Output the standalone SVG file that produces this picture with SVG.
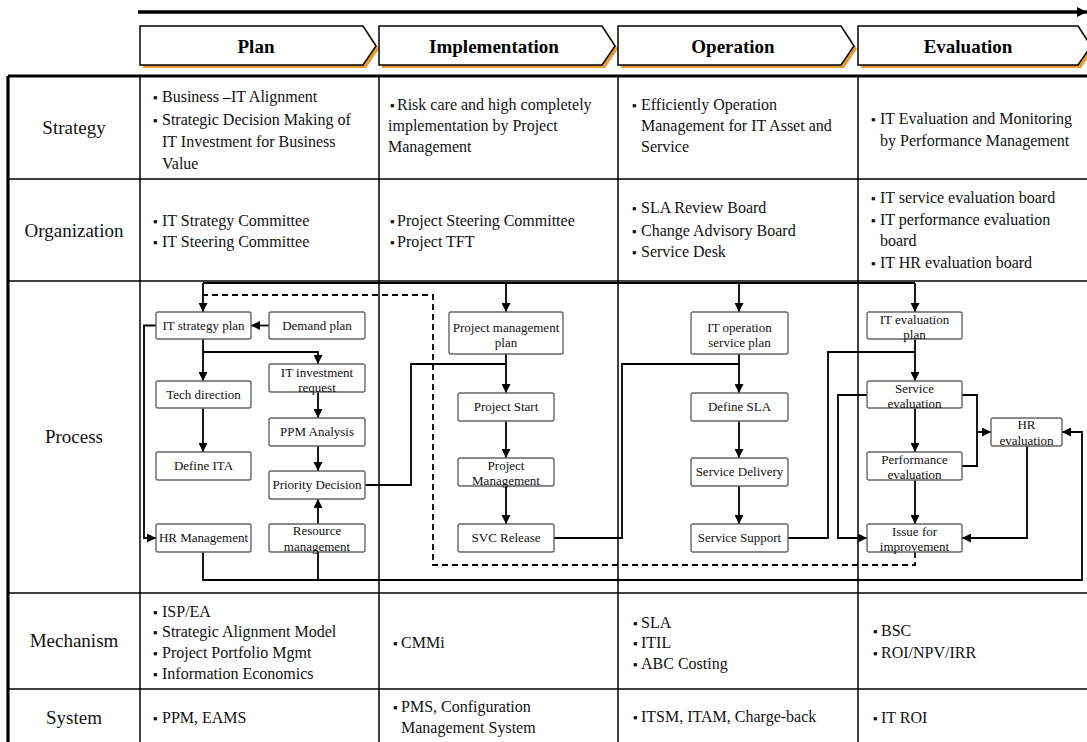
<svg xmlns="http://www.w3.org/2000/svg" width="1087" height="742" viewBox="0 0 1087 742">
<defs>
<marker id="ah" viewBox="0 0 10 10" refX="10" refY="5" markerWidth="5" markerHeight="5" orient="auto" markerUnits="strokeWidth">
<path d="M0,0 L10,5 L0,10 z" fill="#000"/>
</marker>
<marker id="bigah" viewBox="0 0 10 10" refX="10" refY="5" markerWidth="3" markerHeight="3" orient="auto" markerUnits="strokeWidth">
<path d="M0,0 L10,5 L0,10 z" fill="#000"/>
</marker>
</defs>
<style>
.chev{fill:#fff;stroke:#000;stroke-width:1.5}
.shadow{fill:#E39B33;stroke:none}
.ht{font-family:"Liberation Serif","Times New Roman",serif;font-weight:bold;font-size:19px;text-anchor:middle;fill:#000}
.grid{stroke:#000;stroke-width:1.5;fill:none}
.outer{stroke:#000;stroke-width:3.2;fill:none}
.lbl{font-family:"Liberation Serif","Times New Roman",serif;font-size:19px;text-anchor:middle;fill:#111}
.t{font-family:"Liberation Serif","Times New Roman",serif;font-size:16px;fill:#111}
.b{font-size:13px}
.box{fill:#fff;stroke:#666;stroke-width:1.4}
.bt{font-family:"Liberation Serif","Times New Roman",serif;font-size:13px;text-anchor:middle;fill:#111}
.c{fill:none;stroke:#000;stroke-width:1.8}
.ca{fill:none;stroke:#000;stroke-width:1.8;marker-end:url(#ah)}
.dash{fill:none;stroke:#000;stroke-width:1.8;stroke-dasharray:6,4}
</style>
<rect width="1087" height="742" fill="#fff"/>

<!-- timeline arrow -->
<g id="timeline">
<line x1="138" y1="12" x2="1087" y2="12" stroke="#000" stroke-width="3.5" marker-end="url(#bigah)"/>
</g>

<!-- phase chevrons -->
<g id="phase-plan">
<polygon class="shadow" transform="translate(3,3)" points="140,26 363,26 376,46 363,65 140,65"/>
<polygon class="chev" points="140,26 363,26 376,46 363,65 140,65"/>
<text class="ht" x="256" y="53">Plan</text>
</g>
<g id="phase-implementation">
<polygon class="shadow" transform="translate(3,3)" points="379,26 602,26 615,46 602,65 379,65"/>
<polygon class="chev" points="379,26 602,26 615,46 602,65 379,65"/>
<text class="ht" x="494" y="53">Implementation</text>
</g>
<g id="phase-operation">
<polygon class="shadow" transform="translate(3,3)" points="618,26 841,26 854,46 841,65 618,65"/>
<polygon class="chev" points="618,26 841,26 854,46 841,65 618,65"/>
<text class="ht" x="733" y="53">Operation</text>
</g>
<g id="phase-evaluation">
<polygon class="shadow" transform="translate(3,3)" points="858,26 1078,26 1091,46 1078,65 858,65"/>
<polygon class="chev" points="858,26 1078,26 1091,46 1078,65 858,65"/>
<text class="ht" x="968" y="53">Evaluation</text>
</g>

<!-- table grid -->
<g id="table">
<line class="grid" x1="8" y1="179" x2="1087" y2="179"/>
<line class="grid" x1="8" y1="281" x2="1087" y2="281"/>
<line class="grid" x1="8" y1="593" x2="1087" y2="593"/>
<line class="grid" x1="8" y1="689" x2="1087" y2="689"/>
<line class="grid" x1="140" y1="76" x2="140" y2="742"/>
<line class="grid" x1="379" y1="76" x2="379" y2="742"/>
<line class="grid" x1="618" y1="76" x2="618" y2="742"/>
<line class="grid" x1="858" y1="76" x2="858" y2="742"/>
<line class="outer" x1="8" y1="76" x2="1087" y2="76"/>
<line class="outer" x1="8" y1="76" x2="8" y2="742"/>
</g>

<!-- row labels -->
<g id="row-labels">
<text class="lbl" x="74" y="134">Strategy</text>
<text class="lbl" x="74" y="237">Organization</text>
<text class="lbl" x="74" y="443">Process</text>
<text class="lbl" x="74" y="647">Mechanism</text>
<text class="lbl" x="74" y="724">System</text>
</g>

<!-- strategy row -->
<g id="strategy-cells">
<text class="t"><tspan class="b" x="153" y="102">▪</tspan><tspan x="162" y="102">Business –IT Alignment</tspan></text>
<text class="t"><tspan class="b" x="153" y="125">▪</tspan><tspan x="162" y="125">Strategic Decision Making of</tspan></text>
<text class="t" x="162" y="147">IT Investment for Business</text>
<text class="t" x="162" y="169">Value</text>

<text class="t"><tspan class="b" x="390" y="110">▪</tspan><tspan x="397" y="110">Risk care and high completely</tspan></text>
<text class="t" x="388" y="131">implementation by Project</text>
<text class="t" x="388" y="152">Management</text>

<text class="t"><tspan class="b" x="632" y="110">▪</tspan><tspan x="641" y="110">Efficiently Operation</tspan></text>
<text class="t" x="641" y="131">Management for IT Asset and</text>
<text class="t" x="641" y="152">Service</text>

<text class="t"><tspan class="b" x="871" y="124">▪</tspan><tspan x="880" y="124">IT Evaluation and Monitoring</tspan></text>
<text class="t" x="880" y="146">by Performance Management</text>
</g>

<!-- organization row -->
<g id="organization-cells">
<text class="t"><tspan class="b" x="153" y="226">▪</tspan><tspan x="162" y="226">IT Strategy Committee</tspan></text>
<text class="t"><tspan class="b" x="153" y="247">▪</tspan><tspan x="162" y="247">IT Steering Committee</tspan></text>

<text class="t"><tspan class="b" x="390" y="226">▪</tspan><tspan x="397" y="226">Project Steering Committee</tspan></text>
<text class="t"><tspan class="b" x="390" y="247">▪</tspan><tspan x="397" y="247">Project TFT</tspan></text>

<text class="t"><tspan class="b" x="632" y="213">▪</tspan><tspan x="641" y="213">SLA Review Board</tspan></text>
<text class="t"><tspan class="b" x="632" y="236">▪</tspan><tspan x="641" y="236">Change Advisory Board</tspan></text>
<text class="t"><tspan class="b" x="632" y="257">▪</tspan><tspan x="641" y="257">Service Desk</tspan></text>

<text class="t"><tspan class="b" x="871" y="203">▪</tspan><tspan x="880" y="203">IT service evaluation board</tspan></text>
<text class="t"><tspan class="b" x="871" y="225">▪</tspan><tspan x="880" y="225">IT performance evaluation</tspan></text>
<text class="t" x="880" y="246">board</text>
<text class="t"><tspan class="b" x="871" y="268">▪</tspan><tspan x="880" y="268">IT HR evaluation board</tspan></text>
</g>

<!-- mechanism row -->
<g id="mechanism-cells">
<text class="t"><tspan class="b" x="153" y="617">▪</tspan><tspan x="162" y="617">ISP/EA</tspan></text>
<text class="t"><tspan class="b" x="153" y="637">▪</tspan><tspan x="162" y="637">Strategic Alignment Model</tspan></text>
<text class="t"><tspan class="b" x="153" y="658">▪</tspan><tspan x="162" y="658">Project Portfolio Mgmt</tspan></text>
<text class="t"><tspan class="b" x="153" y="679">▪</tspan><tspan x="162" y="679">Information Economics</tspan></text>

<text class="t"><tspan class="b" x="393" y="648">▪</tspan><tspan x="401" y="648">CMMi</tspan></text>

<text class="t"><tspan class="b" x="633" y="628">▪</tspan><tspan x="641" y="628">SLA</tspan></text>
<text class="t"><tspan class="b" x="633" y="648">▪</tspan><tspan x="641" y="648">ITIL</tspan></text>
<text class="t"><tspan class="b" x="633" y="669">▪</tspan><tspan x="641" y="669">ABC Costing</tspan></text>

<text class="t"><tspan class="b" x="873" y="636">▪</tspan><tspan x="881" y="636">BSC</tspan></text>
<text class="t"><tspan class="b" x="873" y="658">▪</tspan><tspan x="881" y="658">ROI/NPV/IRR</tspan></text>
</g>

<!-- system row -->
<g id="system-cells">
<text class="t"><tspan class="b" x="153" y="723">▪</tspan><tspan x="162" y="723">PPM, EAMS</tspan></text>
<text class="t"><tspan class="b" x="393" y="712">▪</tspan><tspan x="401" y="712">PMS, Configuration</tspan></text>
<text class="t" x="401" y="733">Management System</text>
<text class="t"><tspan class="b" x="633" y="722">▪</tspan><tspan x="641" y="722">ITSM, ITAM, Charge-back</tspan></text>
<text class="t"><tspan class="b" x="873" y="723">▪</tspan><tspan x="881" y="723">IT ROI</tspan></text>
</g>

<!-- connectors -->
<g id="connectors">
<path class="dash" d="M915,552 V565 H433 V295 H203"/>
<path class="c" d="M203,283 H915"/>
<path class="ca" d="M203,283 V312"/>
<path class="ca" d="M506,283 V312"/>
<path class="ca" d="M739,283 V312"/>
<path class="ca" d="M915,283 V312"/>
<path class="ca" d="M269,325.5 H251"/>
<path class="ca" d="M203,339 V381"/>
<path class="ca" d="M203,352 H318 V364"/>
<path class="ca" d="M203,408 V452"/>
<path class="ca" d="M318,392 V418"/>
<path class="ca" d="M318,446 V471"/>
<path class="ca" d="M318,524 V499"/>
<path class="ca" d="M156,325.5 H144 V538 H156"/>
<path class="c" d="M365,485 H411 V364 H506"/>
<path class="ca" d="M506,354 V393"/>
<path class="ca" d="M506,421 V458"/>
<path class="ca" d="M506,486 V524"/>
<path class="c" d="M554,538 H622 V364 H739"/>
<path class="ca" d="M739,354 V393"/>
<path class="ca" d="M739,421 V458"/>
<path class="ca" d="M739,486 V524"/>
<path class="c" d="M788,538 H828 V352 H915"/>
<path class="ca" d="M915,339 V381"/>
<path class="ca" d="M915,408 V452"/>
<path class="ca" d="M915,480 V524"/>
<path class="c" d="M962,395 H977 V466 H962"/>
<path class="ca" d="M977,432 H991"/>
<path class="ca" d="M867,395 H838 V538 H867"/>
<path class="ca" d="M1027,446 V538 H962"/>
<path class="ca" d="M203,552 V580 H1082 V432 H1062"/>
<path class="c" d="M318,552 V580"/>
</g>

<!-- process nodes -->
<g id="n-it-strategy-plan"><rect class="box" x="156" y="312" width="95" height="27" rx="2"/><text class="bt" x="203.5" y="330">IT strategy plan</text></g>
<g id="n-demand-plan"><rect class="box" x="269" y="312" width="96" height="27" rx="2"/><text class="bt" x="317" y="330">Demand plan</text></g>
<g id="n-tech-direction"><rect class="box" x="156" y="381" width="95" height="27" rx="2"/><text class="bt" x="203.5" y="399">Tech direction</text></g>
<g id="n-define-ita"><rect class="box" x="156" y="452" width="95" height="28" rx="2"/><text class="bt" x="203.5" y="470">Define ITA</text></g>
<g id="n-hr-management"><rect class="box" x="156" y="524" width="95" height="28" rx="2"/><text class="bt" x="203.5" y="542">HR Management</text></g>
<g id="n-it-investment-request"><rect class="box" x="269" y="364" width="96" height="28" rx="2"/><text class="bt" x="317" y="376.5">IT investment</text><text class="bt" x="317" y="392">request</text></g>
<g id="n-ppm-analysis"><rect class="box" x="269" y="418" width="96" height="28" rx="2"/><text class="bt" x="317" y="436">PPM Analysis</text></g>
<g id="n-priority-decision"><rect class="box" x="269" y="471" width="96" height="28" rx="2"/><text class="bt" x="317" y="489">Priority Decision</text></g>
<g id="n-resource-management"><rect class="box" x="269" y="524" width="96" height="28" rx="2"/><text class="bt" x="317" y="535">Resource</text><text class="bt" x="317" y="551">management</text></g>

<g id="n-project-management-plan"><rect class="box" x="449" y="312" width="114" height="42" rx="2"/><text class="bt" x="506" y="331.5">Project management</text><text class="bt" x="506" y="346.5">plan</text></g>
<g id="n-project-start"><rect class="box" x="458" y="393" width="96" height="28" rx="2"/><text class="bt" x="506" y="411">Project Start</text></g>
<g id="n-project-management"><rect class="box" x="458" y="458" width="96" height="28" rx="2"/><text class="bt" x="506" y="469.5">Project</text><text class="bt" x="506" y="485">Management</text></g>
<g id="n-svc-release"><rect class="box" x="458" y="524" width="96" height="28" rx="2"/><text class="bt" x="506" y="542">SVC Release</text></g>

<g id="n-it-operation-service-plan"><rect class="box" x="691" y="312" width="97" height="42" rx="2"/><text class="bt" x="739.5" y="331.5">IT operation</text><text class="bt" x="739.5" y="346.5">service plan</text></g>
<g id="n-define-sla"><rect class="box" x="691" y="393" width="97" height="28" rx="2"/><text class="bt" x="739.5" y="411">Define SLA</text></g>
<g id="n-service-delivery"><rect class="box" x="691" y="458" width="97" height="28" rx="2"/><text class="bt" x="739.5" y="476">Service Delivery</text></g>
<g id="n-service-support"><rect class="box" x="691" y="524" width="97" height="28" rx="2"/><text class="bt" x="739.5" y="542">Service Support</text></g>

<g id="n-it-evaluation-plan"><rect class="box" x="867" y="312" width="95" height="27" rx="2"/><text class="bt" x="914.5" y="323.5">IT evaluation</text><text class="bt" x="914.5" y="339">plan</text></g>
<g id="n-service-evaluation"><rect class="box" x="867" y="381" width="95" height="27" rx="2"/><text class="bt" x="914.5" y="392.5">Service</text><text class="bt" x="914.5" y="408">evaluation</text></g>
<g id="n-performance-evaluation"><rect class="box" x="867" y="452" width="95" height="28" rx="2"/><text class="bt" x="914.5" y="463.5">Performance</text><text class="bt" x="914.5" y="479">evaluation</text></g>
<g id="n-issue-for-improvement"><rect class="box" x="867" y="524" width="95" height="28" rx="2"/><text class="bt" x="914.5" y="535.5">Issue for</text><text class="bt" x="914.5" y="551">improvement</text></g>
<g id="n-hr-evaluation"><rect class="box" x="991" y="418" width="71" height="28" rx="2"/><text class="bt" x="1026.5" y="429">HR</text><text class="bt" x="1026.5" y="444.5">evaluation</text></g>
</svg>
